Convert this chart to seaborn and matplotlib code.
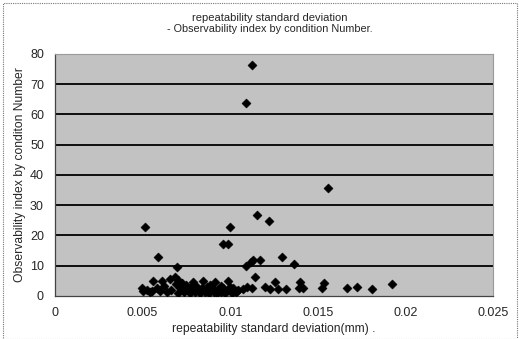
import pandas as pd
import seaborn as sb
from matplotlib import pyplot as plt
from matplotlib.patches import Rectangle

# repeatability standard deviation (mm) vs observability index
rsd_mm = [
    0.01124, 0.01090, 0.01557, 0.00515, 0.01151, 0.00999, 0.01223, 0.00961,
    0.00986, 0.00588, 0.01297, 0.01366, 0.00695, 0.01090, 0.01117, 0.01132,
    0.01170, 0.01142, 0.01256, 0.01398, 0.01535, 0.01924, 0.01809, 0.01724,
    0.01665, 0.01522, 0.01417, 0.01394, 0.01319, 0.01275, 0.01227, 0.01199,
    0.01123, 0.01094, 0.01075, 0.01046, 0.01018, 0.00989, 0.00989, 0.00961,
    0.00932, 0.00913, 0.00904, 0.00885, 0.00875, 0.00847, 0.00837, 0.00809,
    0.00789, 0.00789, 0.00780, 0.00761, 0.00742, 0.00723, 0.00714, 0.00704,
    0.00685, 0.00656, 0.00662, 0.00609, 0.00599, 0.00581, 0.00561, 0.00552,
    0.00523, 0.00495,
    0.00640, 0.00700, 0.00735, 0.00770, 0.00800, 0.00825, 0.00855, 0.00880,
    0.00905, 0.00925, 0.00950, 0.00970, 0.01010, 0.01035, 0.00540, 0.00505,
    0.00620, 0.00690, 0.00750, 0.00810, 0.00870, 0.00950, 0.01000, 0.01040,
]
obs_index = [
    76.4, 63.8, 35.8, 22.9, 26.8, 22.9, 24.9, 17.2,
    17.2, 12.8, 13.0, 10.5, 9.5, 9.9, 11.3, 11.9,
    11.9, 6.4, 4.6, 4.7, 4.2, 3.9, 2.2, 3.1,
    2.5, 2.5, 2.5, 2.5, 2.2, 2.2, 2.2, 2.9,
    2.5, 3.1, 2.3, 2.0, 2.5, 2.0, 5.1, 2.5,
    2.0, 4.5, 2.5, 3.6, 2.0, 5.0, 2.5, 2.0,
    4.7, 3.6, 2.5, 2.0, 3.1, 4.2, 2.5, 5.3,
    6.4, 5.6, 2.0, 5.0, 1.7, 2.5, 5.0, 1.7,
    2.0, 2.5,
    1.2, 1.0, 1.3, 0.9, 1.4, 1.0, 1.2, 0.9,
    1.3, 1.0, 1.2, 0.9, 1.1, 1.3, 1.3, 1.5,
    3.3, 4.0, 3.5, 3.0, 2.8, 3.3, 3.0, 1.5,
]
x_ticks = [0, 0.005, 0.01, 0.015, 0.02, 0.025]
x_tick_labels = ["0", "0.005", "0.01", "0.015", "0.02", "0.025"]
y_ticks = [0, 10, 20, 30, 40, 50, 60, 70, 80]

df = pd.DataFrame({"rsd": rsd_mm, "obs": obs_index})

sb.set_style("white")
plt.rcParams["font.family"] = ["Liberation Sans", "DejaVu Sans"]

fig = plt.figure(figsize=(5.19, 3.39), dpi=100)
ax = fig.add_axes([0.106, 0.127, 0.844, 0.714])

# * stippled gray plot area
ax.set_facecolor("#c2c2c2")
ax.set_axisbelow(True)
for y in y_ticks[1:-1]:
    ax.axhline(y, color="black", lw=1.3, zorder=1)

sb.scatterplot(
    data=df, x="rsd", y="obs", marker="D", color="black",
    s=22, edgecolor="black", linewidth=0.3, zorder=3, ax=ax,
)

ax.set_xlim(0, 0.025)
ax.set_ylim(0, 80)
ax.set_xticks(x_ticks)
ax.set_xticklabels(x_tick_labels)
ax.set_yticks(y_ticks)
ax.tick_params(labelsize=9, length=0, pad=8)
for side in ["top", "right"]:
    ax.spines[side].set_color("#9a9a9a")
    ax.spines[side].set_linewidth(0.8)
for side in ["left", "bottom"]:
    ax.spines[side].set_color("#444444")
    ax.spines[side].set_linewidth(0.9)

ax.set_xlabel("repeatability standard deviation(mm) .", fontsize=8.7, labelpad=3)
ax.set_ylabel("Observability index by conditon Number", fontsize=8.7, labelpad=3)

fig.text(0.52, 0.948, "repeatability standard deviation", ha="center", va="center", fontsize=8)
fig.text(0.52, 0.913, "- Observability index by condition Number.", ha="center", va="center", fontsize=7.8)

# * dotted chart-area frame
fig.patches.append(
    Rectangle((0.006, 0.0), 0.99, 0.99, transform=fig.transFigure, fill=False,
              edgecolor="#777777", lw=0.8, linestyle=(0, (1, 1)))
)

fig.savefig("out.png", dpi=100)
plt.close()
